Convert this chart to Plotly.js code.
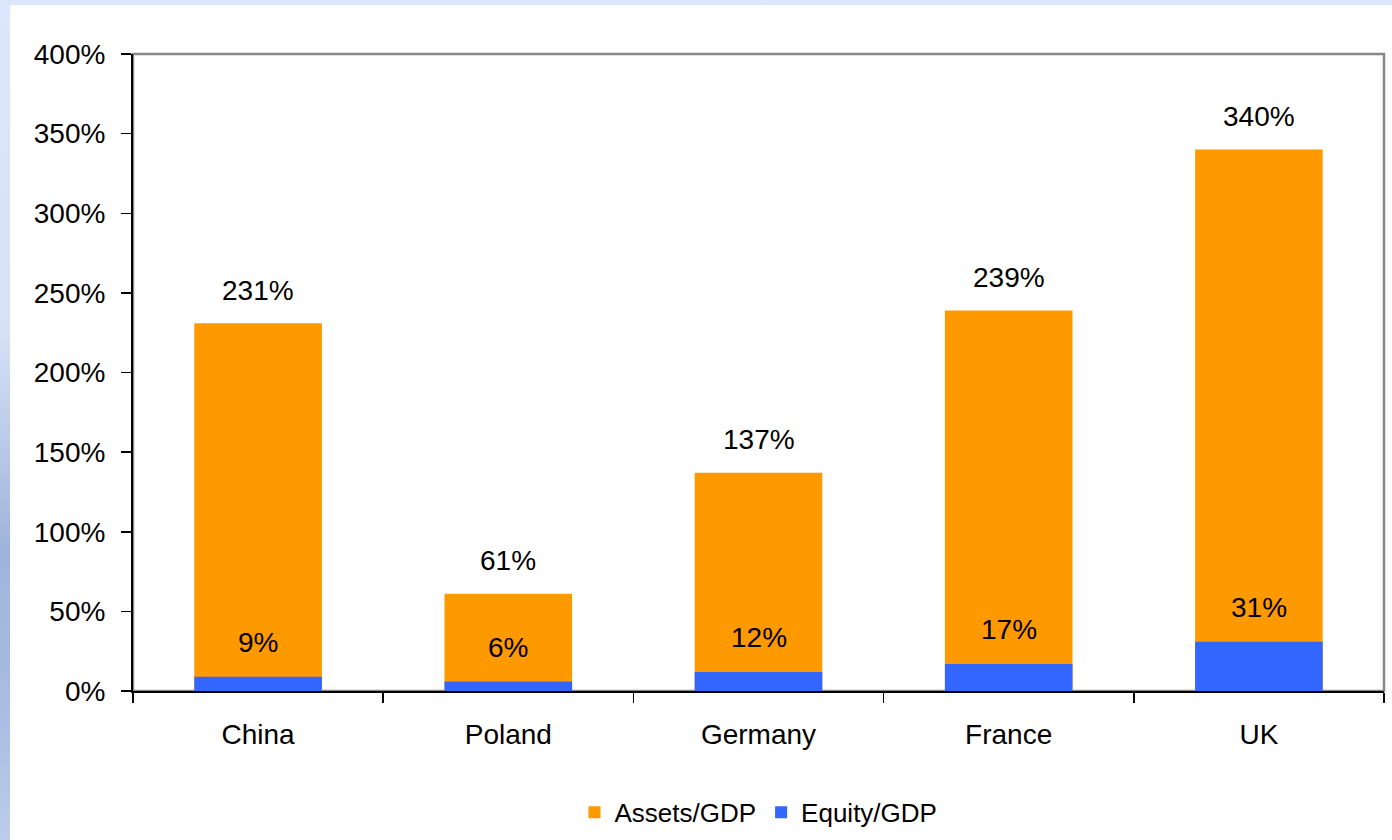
<!DOCTYPE html>
<html>
<head>
<meta charset="utf-8">
<script src="https://cdn.plot.ly/plotly-3.0.1.min.js"></script>
<style>
html,body{margin:0;padding:0;width:1392px;height:840px;overflow:hidden;}
body{background:linear-gradient(180deg,#dde7fc 0%,#d6e0f6 40%,#9fb4dc 65%,#a9bde3 85%,#bccdeb 100%);}
#chart{position:absolute;left:10px;top:5px;width:1382px;height:835px;background:#fff;}
</style>
</head>
<body>
<div id="chart"></div>
<script>
const categories = ["China", "Poland", "Germany", "France", "UK"];
const assetsGDP = [231, 61, 137, 239, 340];
const equityGDP = [9, 6, 12, 17, 31];
const yTicks = [0, 50, 100, 150, 200, 250, 300, 350, 400];

const font = "Liberation Sans, Arial, sans-serif";

const traces = [
  {type:'bar', name:'Assets/GDP', x:categories, y:assetsGDP, marker:{color:'#FF9900'}, width:0.51, hoverinfo:'none'},
  {type:'bar', name:'Equity/GDP', x:categories, y:equityGDP, marker:{color:'#3366FF'}, width:0.51, hoverinfo:'none'}
];

const annotations = [];
categories.forEach((c,i)=>{
  annotations.push({x:c, y:assetsGDP[i], xref:'x', yref:'y', text:assetsGDP[i]+'%', showarrow:false, yanchor:'middle', yshift:33, font:{size:28,color:'#000',family:font}});
  annotations.push({x:c, y:equityGDP[i], xref:'x', yref:'y', text:equityGDP[i]+'%', showarrow:false, yanchor:'middle', yshift:34, font:{size:28,color:'#000',family:font}});
});

const layout = {
  width:1382, height:835,
  margin:{l:123, r:8, t:49, b:149},
  paper_bgcolor:'#ffffff', plot_bgcolor:'#ffffff',
  barmode:'overlay',
  font:{family:font, size:28, color:'#000'},
  showlegend:true,
  legend:{orientation:'h', x:0.5, xanchor:'center', yref:'container', y:0.033, yanchor:'middle', font:{size:26,family:font}, itemwidth:30, traceorder:'normal'},
  xaxis:{type:'category', automargin:false, showline:true, linecolor:'#000', linewidth:2, ticks:'outside', tickson:'boundaries', ticklen:10, tickcolor:'#000', tickwidth:1.5, showgrid:false, tickfont:{size:28}, ticklabelstandoff:17, fixedrange:true},
  yaxis:{range:[0,400], automargin:false, tickvals:yTicks, ticktext:yTicks.map(v=>v+'%'), showline:true, linecolor:'#000', linewidth:2, ticks:'outside', ticklen:10, tickcolor:'#000', tickwidth:1.5, showgrid:false, zeroline:false, tickfont:{size:28}, ticklabelstandoff:10, fixedrange:true},
  shapes:[{type:'rect', xref:'paper', yref:'paper', x0:0, x1:1, y0:0, y1:1, line:{color:'#888888', width:2.5}, layer:'below'}],
  annotations:annotations
};

Plotly.newPlot('chart', traces, layout, {displayModeBar:false, staticPlot:true});
</script>
</body>
</html>
